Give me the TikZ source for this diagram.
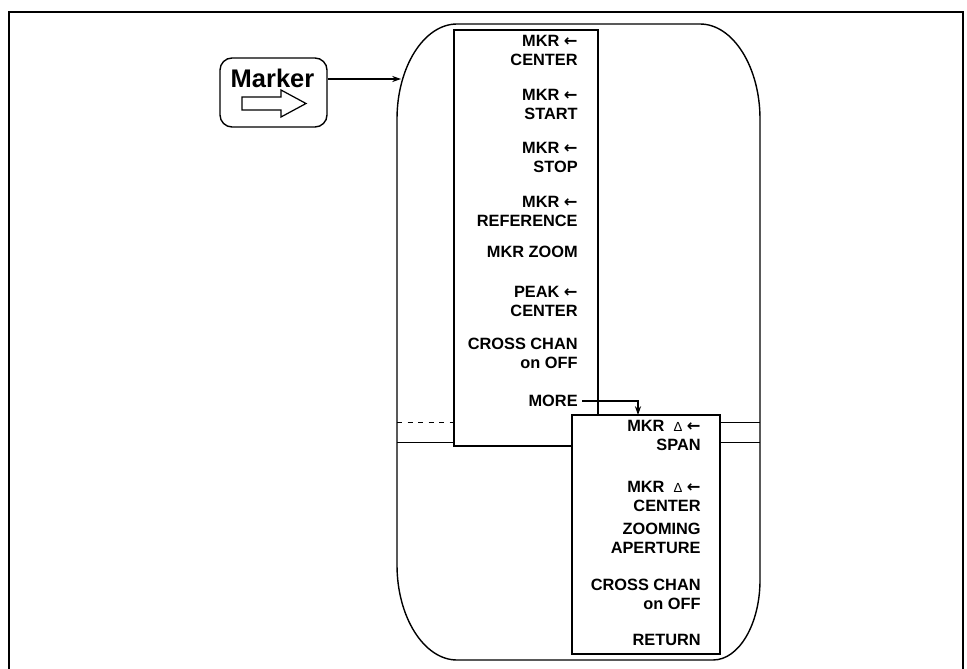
\documentclass[tikz,border=0pt]{standalone}
\usepackage{fontspec}
\setmainfont{Liberation Sans}
\newfontfamily\symfont{DejaVu Sans}
\usetikzlibrary{arrows.meta, calc}

\newcommand{\mkrarrow}{{\symfont\bfseries ←}}
\newcommand{\mkrdelta}{{\mdseries\fontsize{7.5}{8}\selectfont Δ}}

\begin{document}
\begin{tikzpicture}[x=0.02cm, y=-0.02cm,
  frame/.style={line width=1.6pt},
  bezel/.style={line width=0.8pt},
  band/.style={line width=0.5pt},
  menu/.style={draw, line width=0.8pt, fill=white, inner sep=0pt},
  softkey/.style={anchor=east, align=right, inner sep=0pt,
    font=\bfseries\fontsize{9.3}{10.8}\selectfont},
  hardkey/.style={draw, line width=0.8pt, rounded corners=0.24cm,
    inner sep=0pt, minimum width=2.14cm, minimum height=1.38cm},
  arr/.style={-{Stealth[length=5pt, width=3.5pt]}, line width=0.6pt}
]
  \useasboundingbox (0,0) rectangle (967,669);

  % Outer frame
  \draw[frame] (9,669) -- (9,12) -- (963,12) -- (963,669);

  % Display bezel
  \draw[bezel] (457,24) -- (700,24)
    .. controls (733,24) and (760,67) .. (760,119) -- (760,580)
    .. controls (760,624) and (739,660) .. (713,660) -- (457,660)
    .. controls (424,660) and (397,617) .. (397,565) -- (397,119)
    .. controls (397,67) and (424,24) .. (457,24);
  \draw[band, dashed] (397,422) -- (454,422);
  \draw[band] (397,442) -- (454,442);
  \draw[band] (720,422) -- (760,422);
  \draw[band] (720,442) -- (760,442);

  % Marker key
  \node[hardkey] (key) at (273.5,92.5) {};
  \node[font=\bfseries\fontsize{14.5}{15}\selectfont, inner sep=0pt]
    (keylabel) at (272.5,78) {Marker};
  \draw[line width=0.7pt] (242,97) -- (281,97) -- (281,90) -- (306,103.5)
    -- (281,117) -- (281,110) -- (242,110) -- cycle;

  % Menus
  \node[menu, minimum width=2.88cm, minimum height=8.32cm]
    (menu1) at (526,238) {};
  \node[menu, minimum width=2.96cm, minimum height=4.78cm]
    (menu2) at (646,534.5) {};

  % First menu
  \node[softkey] (mkrcenter) at (578,50) {MKR \mkrarrow\\CENTER};
  \node[softkey] (mkrstart) at (578,104) {MKR \mkrarrow\\START};
  \node[softkey] (mkrstop) at (578,157) {MKR \mkrarrow\\STOP};
  \node[softkey] (mkrref) at (578,211) {MKR \mkrarrow\\REFERENCE};
  \node[softkey] (mkrzoom) at (578,252) {MKR ZOOM};
  \node[softkey] (peakcenter) at (578,301) {PEAK \mkrarrow\\CENTER};
  \node[softkey] (crosschan) at (578,353) {CROSS CHAN\\on OFF};
  \node[softkey] (more) at (578,401) {MORE};

  % Second menu
  \node[softkey] (mkrspan) at (701,435) {MKR \ \mkrdelta\ \mkrarrow\\SPAN};
  \node[softkey] (deltacenter) at (701,496) {MKR \ \mkrdelta\ \mkrarrow\\CENTER};
  \node[softkey] (zoomap) at (701,538) {ZOOMING\\APERTURE};
  \node[softkey] (crosschantwo) at (701,594) {CROSS CHAN\\on OFF};
  \node[softkey] (return) at (701,640) {RETURN};

  % Connectors
  \coordinate (bezelin) at (401,79);
  \coordinate (moredrop) at (638,415);
  \draw[arr] (key.east |- bezelin) -- (bezelin);
  \draw[arr] ([xshift=0.08cm]more.east) -| (moredrop);
\end{tikzpicture}
\end{document}
